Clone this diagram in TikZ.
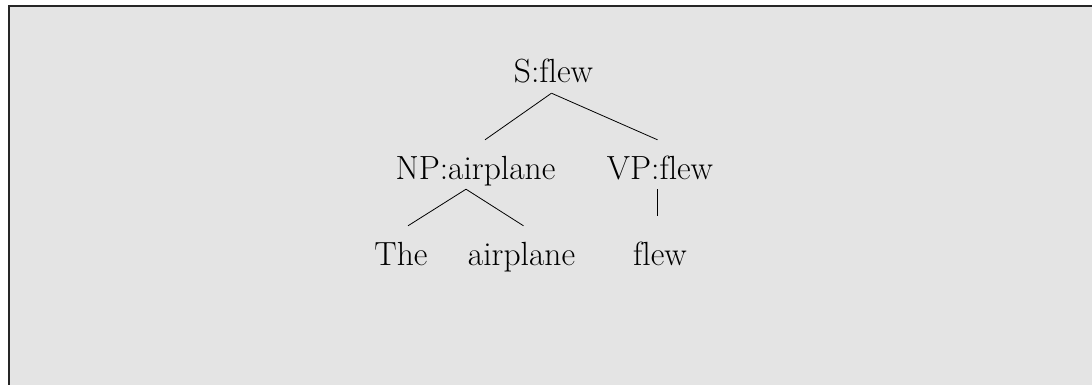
\documentclass[tikz,border=0pt]{standalone}
\usepackage{fontspec}
\setmainfont{Latin Modern Roman}[Ligatures=CommonOff]
\usepackage{tikz}
\usetikzlibrary{positioning, calc}
\definecolor{panelgray}{HTML}{E4E4E4}
\tikzset{
    word/.style={anchor=base, inner sep=0pt, text height=39pt, text depth=10pt,
      font=\fontsize{33.5}{40}\selectfont},
    branch/.style={draw=black, line width=0.8pt},
}

\begin{document}
\begin{tikzpicture}[x=1pt, y=1pt]
    \useasboundingbox (0,0) rectangle (1092,-385);
    \fill[panelgray] (9,-6) rectangle (1092,-385);
    \draw[line width=1.6pt, black!85] (9,-385) -- (9,-6) -- (1092,-6);

    \node[word] (s) at (553.5,-83) {S:flew};

    \node[word] (np) at (475.5,-179) {NP:airplane};
    \node[word] (vp) at (660,-179) {VP:flew};

    \node[word] (the) at (401,-265) {The};
    \node[word] (air) at (521.5,-265) {airplane};
    \node[word] (flw) at (660,-265) {flew};

    \draw[branch] ([xshift=-2pt]s.south) -- ([xshift=9.5pt]np.north);
    \draw[branch] ([xshift=-2pt]s.south) -- ([xshift=-2.5pt]vp.north);
    \draw[branch] ([xshift=-9.5pt]np.south) -- ([xshift=7pt]the.north);
    \draw[branch] ([xshift=-9.5pt]np.south) -- ([xshift=2pt]air.north);
    \draw[branch, shorten >=10pt] ([xshift=-2.5pt]vp.south) -- ([xshift=-2.5pt]flw.north);
\end{tikzpicture}
\end{document}
